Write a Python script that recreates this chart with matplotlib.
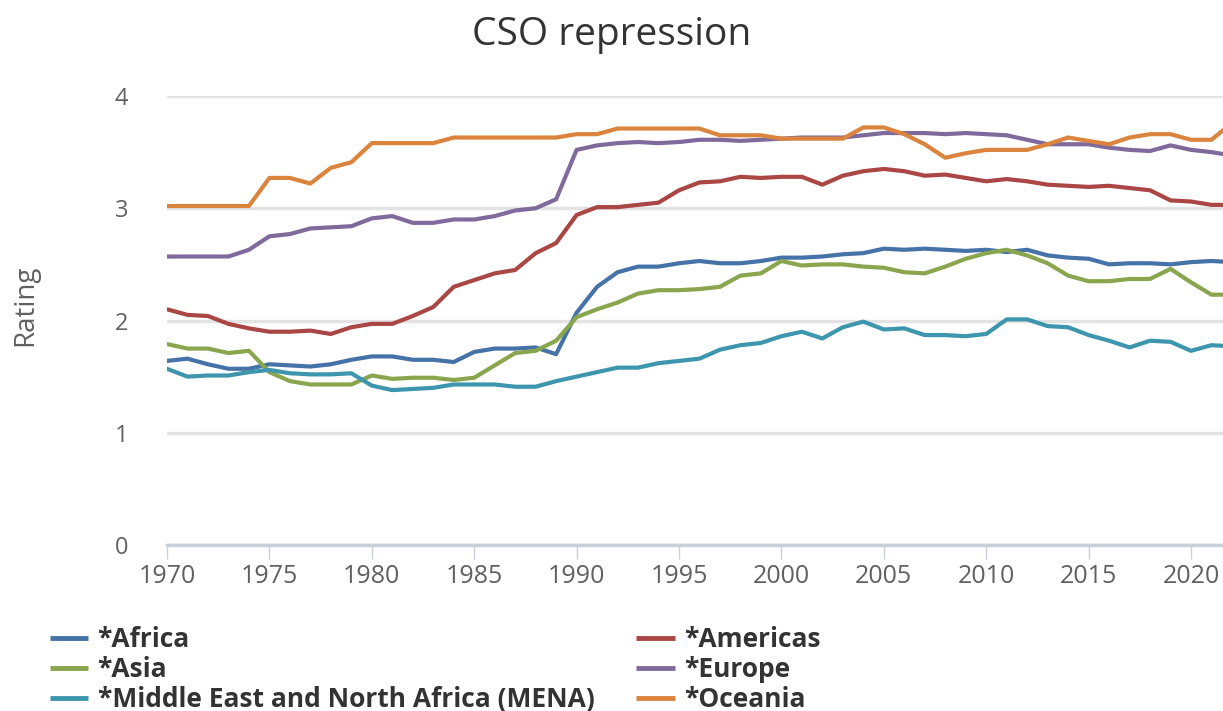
import numpy as np
import matplotlib
matplotlib.use("Agg")
import matplotlib.pyplot as plt

# donnees (1970 -> 2022)
years = np.arange(1970, 2023)

africa = [1.64, 1.66, 1.61, 1.57, 1.57, 1.61, 1.60, 1.59, 1.61, 1.65,
          1.68, 1.68, 1.65, 1.65, 1.63, 1.72, 1.75, 1.75, 1.76, 1.70,
          2.07, 2.30, 2.43, 2.48, 2.48, 2.51, 2.53, 2.51, 2.51, 2.53,
          2.56, 2.56, 2.57, 2.59, 2.60, 2.64, 2.63, 2.64, 2.63, 2.62,
          2.63, 2.61, 2.63, 2.58, 2.56, 2.55, 2.50, 2.51, 2.51, 2.50,
          2.52, 2.53, 2.52]
americas = [2.10, 2.05, 2.04, 1.97, 1.93, 1.90, 1.90, 1.91, 1.88, 1.94,
            1.97, 1.97, 2.04, 2.12, 2.30, 2.36, 2.42, 2.45, 2.60, 2.69,
            2.94, 3.01, 3.01, 3.03, 3.05, 3.16, 3.23, 3.24, 3.28, 3.27,
            3.28, 3.28, 3.21, 3.29, 3.33, 3.35, 3.33, 3.29, 3.30, 3.27,
            3.24, 3.26, 3.24, 3.21, 3.20, 3.19, 3.20, 3.18, 3.16, 3.07,
            3.06, 3.03, 3.03]
asia = [1.79, 1.75, 1.75, 1.71, 1.73, 1.54, 1.46, 1.43, 1.43, 1.43,
        1.51, 1.48, 1.49, 1.49, 1.47, 1.49, 1.60, 1.71, 1.73, 1.82,
        2.03, 2.10, 2.16, 2.24, 2.27, 2.27, 2.28, 2.30, 2.40, 2.42,
        2.53, 2.49, 2.50, 2.50, 2.48, 2.47, 2.43, 2.42, 2.48, 2.55,
        2.60, 2.63, 2.58, 2.51, 2.40, 2.35, 2.35, 2.37, 2.37, 2.46,
        2.34, 2.23, 2.23]
europe = [2.57, 2.57, 2.57, 2.57, 2.63, 2.75, 2.77, 2.82, 2.83, 2.84,
          2.91, 2.93, 2.87, 2.87, 2.90, 2.90, 2.93, 2.98, 3.00, 3.08,
          3.52, 3.56, 3.58, 3.59, 3.58, 3.59, 3.61, 3.61, 3.60, 3.61,
          3.62, 3.63, 3.63, 3.63, 3.65, 3.67, 3.67, 3.67, 3.66, 3.67,
          3.66, 3.65, 3.61, 3.57, 3.57, 3.57, 3.54, 3.52, 3.51, 3.56,
          3.52, 3.50, 3.47]
mena = [1.57, 1.50, 1.51, 1.51, 1.54, 1.56, 1.53, 1.52, 1.52, 1.53,
        1.42, 1.38, 1.39, 1.40, 1.43, 1.43, 1.43, 1.41, 1.41, 1.46,
        1.50, 1.54, 1.58, 1.58, 1.62, 1.64, 1.66, 1.74, 1.78, 1.80,
        1.86, 1.90, 1.84, 1.94, 1.99, 1.92, 1.93, 1.87, 1.87, 1.86,
        1.88, 2.01, 2.01, 1.95, 1.94, 1.87, 1.82, 1.76, 1.82, 1.81,
        1.73, 1.78, 1.77]
oceania = [3.02, 3.02, 3.02, 3.02, 3.02, 3.27, 3.27, 3.22, 3.36, 3.41,
           3.58, 3.58, 3.58, 3.58, 3.63, 3.63, 3.63, 3.63, 3.63, 3.63,
           3.66, 3.66, 3.71, 3.71, 3.71, 3.71, 3.71, 3.65, 3.65, 3.65,
           3.62, 3.62, 3.62, 3.62, 3.72, 3.72, 3.66, 3.57, 3.45, 3.49,
           3.52, 3.52, 3.52, 3.57, 3.63, 3.60, 3.57, 3.63, 3.66, 3.66,
           3.61, 3.61, 3.76]

noms = ["*Africa", "*Americas", "*Asia", "*Europe",
        "*Middle East and North Africa (MENA)", "*Oceania"]
series = [africa, americas, asia, europe, mena, oceania]
couleurs = ["#4572A7", "#AA4643", "#89A54E", "#80699B", "#3D96AE", "#DB843D"]

plt.rcParams['font.family'] = ['Open Sans', 'DejaVu Sans']

fig = plt.figure(figsize=(12.23, 7.11), dpi=100)
ax = fig.add_axes([167 / 1223, (711 - 545) / 711, 1 - 167 / 1223, (545 - 96) / 711])

lignes = {}
for nom, vals, c in zip(noms, series, couleurs):
    l, = ax.plot(years, vals, color=c, linewidth=3, solid_joinstyle='round',
                 solid_capstyle='round', label=nom)
    lignes[nom] = l

ax.set_xlim(1970, 1970 + (1223 - 167) / 20.48)
ax.set_ylim(0, 4)
ax.set_yticks([0, 1, 2, 3, 4])
ax.set_xticks(np.arange(1970, 2021, 5))

# grille horizontale style highcharts
ax.yaxis.grid(True, color="#e3e3e3", linewidth=2.5)
ax.set_axisbelow(True)
for s in ["top", "right", "left"]:
    ax.spines[s].set_visible(False)
ax.spines["bottom"].set_color("#c9d0dc")
ax.spines["bottom"].set_linewidth(2.5)

ax.tick_params(axis="y", length=0, pad=28, labelsize=17, labelcolor="#606060")
ax.tick_params(axis="x", length=10, width=1, color="#c9d0dc", pad=4,
               labelsize=18, labelcolor="#606060")

fig.text(25 / 1223, 1 - 305 / 711, "Rating", rotation=90, ha="center",
         va="center", fontsize=20, color="#606060")
fig.text(0.5, 1 - 35 / 711, "CSO repression", ha="center", va="center",
         fontsize=28, color="#333333")

# ordre colonne par colonne pour avoir les lignes Africa/Americas, Asia/Europe ...
ordre = ["*Africa", "*Asia", "*Middle East and North Africa (MENA)",
         "*Americas", "*Europe", "*Oceania"]
leg = fig.legend([lignes[n] for n in ordre], ordre, ncol=2, loc="upper left",
                 bbox_to_anchor=(50 / 1223, 1 - 626 / 711), frameon=False,
                 prop={"size": 19, "weight": "bold"}, handlelength=1.45,
                 handletextpad=0.35, columnspacing=1.6, labelspacing=0.11,
                 borderpad=0, borderaxespad=0)
for t in leg.get_texts():
    t.set_color("#333333")
for h in leg.legend_handles:
    h.set_linewidth(3.5)
    h.set_solid_capstyle("butt")

plt.savefig("out.png", dpi=100)
